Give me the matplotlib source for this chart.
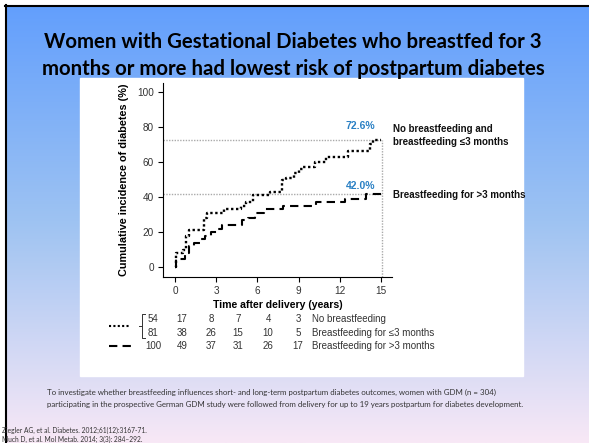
import numpy as np
import matplotlib
matplotlib.use("Agg")
import matplotlib.pyplot as plt
from matplotlib.patches import Rectangle
from matplotlib.lines import Line2D

# ---------------- data ----------------
t_low = [0, 0.1, 0.6, 0.8, 1.0, 2.1, 2.3, 3.6, 4.8, 5.2, 5.7, 6.9, 7.8, 8.1, 8.7, 9.0, 9.3, 10.2, 11.0, 12.6, 14.2, 14.4, 15.0]
y_low = [0, 8, 10, 18, 21, 28, 31, 33, 35, 37, 41, 43, 50, 51, 54, 56, 57, 60, 63, 66, 70, 72.6, 72.6]
t_high = [0, 0.1, 0.7, 1.0, 1.4, 1.9, 2.2, 2.6, 3.1, 3.4, 4.9, 5.3, 5.8, 6.5, 7.9, 10.3, 12.4, 13.9, 15.0]
y_high = [0, 5, 8, 12, 14, 16, 18, 20, 22, 24, 27, 28, 31, 33, 35, 37, 39, 42, 42]
final_low = 72.6
final_high = 42.0
x_ticks = [0, 3, 6, 9, 12, 15]
y_ticks = [0, 20, 40, 60, 80, 100]
risk_rows = [
    ["54", "17", "8", "7", "4", "3"],
    ["81", "38", "26", "15", "10", "5"],
    ["100", "49", "37", "31", "26", "17"],
]
risk_labels = ["No breastfeeding", "Breastfeeding for \u22643 months", "Breastfeeding for >3 months"]
title = "Women with Gestational Diabetes who breastfed for 3\nmonths or more had lowest risk of postpartum diabetes"
note = ("To investigate whether breastfeeding influences short- and long-term postpartum diabetes outcomes, women with GDM (n = 304)\n"
        "participating in the prospective German GDM study were followed from delivery for up to 19 years postpartum for diabetes development.")
refs = ["Ziegler AG, et al. Diabetes. 2012;61(12):3167-71.", "Much D, et al. Mol Metab. 2014; 3(3): 284\u2013292."]

W, H = 589, 443
fig = plt.figure(figsize=(W / 100, H / 100), dpi=100)

def fx(px):
    return px / W

def fy(py):
    return 1 - py / H

# background gradient
bg = fig.add_axes([0, 0, 1, 1], zorder=0)
bg.set_axis_off()
top = np.array([97, 158, 253]) / 255
mid = np.array([158, 195, 242]) / 255
bot = np.array([248, 232, 246]) / 255
n = 256
g = np.zeros((n, 1, 3))
for i in range(n):
    f = i / (n - 1)
    if f < 0.5:
        c = top + (mid - top) * (f / 0.5)
    else:
        c = mid + (bot - mid) * ((f - 0.5) / 0.5)
    g[i, 0] = c
bg.imshow(g, aspect="auto", extent=[0, W, H, 0])
bg.set_xlim(0, W)
bg.set_ylim(H, 0)
# white outside border
bg.add_patch(Rectangle((0, 0), W, 5, color="white", zorder=2))
bg.add_patch(Rectangle((0, 0), 5, H, color="white", zorder=2))
bg.plot([6, 6], [5, H], color="black", lw=1.5, zorder=3)
bg.plot([5, W], [6, 6], color="black", lw=1.5, zorder=3)
# white panel
bg.add_patch(Rectangle((80, 78), 443, 298, color="white", zorder=2))

fig.text(fx(293), fy(48), title.split("\n")[0], ha="center", va="baseline",
         fontsize=14.7, fontweight="bold", family="Lato", color="black")
fig.text(fx(293), fy(75), title.split("\n")[1], ha="center", va="baseline",
         fontsize=14.7, fontweight="bold", family="Lato", color="black")

# main axes
ax = fig.add_axes([fx(163), fy(277), fx(392) - fx(163), fy(83) - fy(277)], zorder=2)
ax.set_facecolor("none")
ax.set_xlim(-0.87, 15.8)
ax.set_ylim(-5.5, 105)
for s in ["top", "right"]:
    ax.spines[s].set_visible(False)
for s in ["left", "bottom"]:
    ax.spines[s].set_linewidth(0.8)
ax.set_xticks(x_ticks)
ax.set_yticks(y_ticks)
ax.tick_params(labelsize=7.2, length=3.5, width=0.8, pad=3)
for lab in ax.get_xticklabels() + ax.get_yticklabels():
    lab.set_family("Liberation Sans")
    lab.set_color("#333333")

ref_kw = dict(color="#aaaaaa", lw=1.0, linestyle=(0, (1, 1)), zorder=1)
ax.plot([-0.87, 15.05], [final_low, final_low], **ref_kw)
ax.plot([-0.87, 15.05], [final_high, final_high], **ref_kw)
ax.plot([15.05, 15.05], [-5.5, final_low], **ref_kw)

ax.step(t_low, y_low, where="post", color="black", lw=1.7, linestyle=(0, (1, 1.1)), zorder=3)
ax.step(t_high, y_high, where="post", color="black", lw=1.5, linestyle=(0, (4, 2.5)), zorder=3)

ax.text(14.6, final_low + 5, f"{final_low:.1f}%", ha="right", va="bottom", fontsize=7.5,
        fontweight="bold", color="#2a80c4", family="Liberation Sans")
ax.text(14.6, final_high + 1.5, f"{final_high:.1f}%", ha="right", va="bottom", fontsize=7.5,
        fontweight="bold", color="#2a80c4", family="Liberation Sans")

ax.set_xlabel("Time after delivery (years)", fontsize=7.6, fontweight="bold", family="Liberation Sans", labelpad=3)
ax.set_ylabel("Cumulative incidence of diabetes (%)", fontsize=7.8, fontweight="bold", family="Liberation Sans")
ax.yaxis.set_label_coords((129 - 163) / (392 - 163), 0.5)

fig.text(fx(393), fy(129), "No breastfeeding and", fontsize=7, fontweight="bold",
         family="Liberation Sans", va="center", ha="left", color="#111111")
fig.text(fx(393), fy(142), "breastfeeding \u22643 months", fontsize=7, fontweight="bold",
         family="Liberation Sans", va="center", ha="left", color="#111111")
fig.text(fx(393), fy(195), "Breastfeeding for >3 months", fontsize=7, fontweight="bold",
         family="Liberation Sans", va="center", ha="left", color="#111111")

# risk table
col_x = [153, 182, 211, 238, 268, 298]
row_y = [319, 333, 346]
for r, row in enumerate(risk_rows):
    for c, val in enumerate(row):
        fig.text(fx(col_x[c]), fy(row_y[r]), val, fontsize=7, family="Liberation Sans",
                 ha="center", va="center", color="#333333")
    fig.text(fx(312), fy(row_y[r]), risk_labels[r], fontsize=7, family="Liberation Sans",
             ha="left", va="center", color="#333333")
# legend line samples
fig.add_artist(Line2D([fx(109), fx(130)], [fy(326), fy(326)], color="black", lw=1.5,
                      linestyle=(0, (1, 1.1))))
fig.add_artist(Line2D([fx(109), fx(133)], [fy(346), fy(346)], color="black", lw=1.5,
                      linestyle=(0, (4, 2.5))))
fig.add_artist(Line2D([fx(145), fx(142), fx(142), fx(145)],
                      [fy(314), fy(314), fy(338), fy(338)], color="#333333", lw=0.7))
fig.add_artist(Line2D([fx(139), fx(142)], [fy(326), fy(326)], color="#333333", lw=0.7))

# footnote and references
fig.text(fx(47), fy(392), note.split("\n")[0], fontsize=5.7, family="Lato", ha="left", va="center", color="#333333")
fig.text(fx(47), fy(404), note.split("\n")[1], fontsize=5.7, family="Lato", ha="left", va="center", color="#333333")
fig.text(fx(2), fy(430), refs[0], fontsize=4.8, family="Lato", ha="left", va="center", color="#333333")
fig.text(fx(2), fy(439), refs[1], fontsize=4.8, family="Lato", ha="left", va="center", color="#333333")

fig.savefig("out.png", dpi=100)
